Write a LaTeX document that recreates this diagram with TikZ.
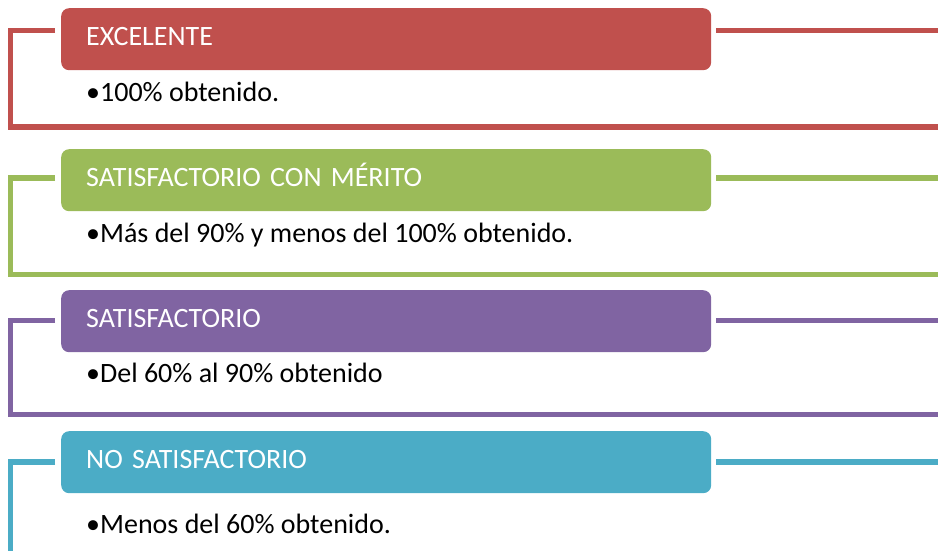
\documentclass[tikz,border=0pt]{standalone}
\usepackage{fontspec}
\setmainfont{Carlito}
\definecolor{cred}{HTML}{C0504D}
\definecolor{cgreen}{HTML}{9BBB59}
\definecolor{cpurple}{HTML}{8064A2}
\definecolor{cteal}{HTML}{4BACC6}
\tikzset{
  hdr/.style={rounded corners=8pt, minimum width=650pt, minimum height=62pt,
    anchor=north west, text width=600pt, inner xsep=25pt, inner ysep=0pt,
    align=left, text height=17pt, text depth=5pt, text=white,
    font=\fontsize{28pt}{32pt}\selectfont},
  body/.style={anchor=base west, inner sep=0pt, text=black,
    font=\fontsize{28pt}{32pt}\selectfont},
  frame/.style={line width=5.5pt, line cap=butt, line join=miter}
}
\begin{document}
\begin{tikzpicture}[x=1pt,y=-1pt]
\useasboundingbox (0,0) rectangle (938,551);
% band 1
\draw[frame, cred] (55,30.5) -- (10.5,30.5) -- (10.5,127) -- (945,127);
\draw[frame, cred] (716,30.5) -- (945,30.5);
\node[hdr, fill=cred] (h1) at (61,8) {EXCELENTE};
\node[body] (b1) at (86,101.7) {•100\% obtenido.};
% band 2
\draw[frame, cgreen] (55,178) -- (10.5,178) -- (10.5,274.5) -- (945,274.5);
\draw[frame, cgreen] (716,178) -- (945,178);
\node[hdr, fill=cgreen] (h2) at (61,149) {SATISFACTORIO CON MÉRITO};
\node[body] (b2) at (86,242) {•Más del 90\% y menos del 100\% obtenido.};
% band 3
\draw[frame, cpurple] (55,320.5) -- (10.5,320.5) -- (10.5,414.5) -- (945,414.5);
\draw[frame, cpurple] (716,320.5) -- (945,320.5);
\node[hdr, fill=cpurple] (h3) at (61,290) {SATISFACTORIO};
\node[body] (b3) at (86,382) {•Del 60\% al 90\% obtenido};
% band 4
\draw[frame, cteal] (55,462) -- (10.5,462) -- (10.5,560);
\draw[frame, cteal] (716,462) -- (945,462);
\node[hdr, fill=cteal] (h4) at (61,431) {NO SATISFACTORIO};
\node[body] (b4) at (86,533) {•Menos del 60\% obtenido.};
\end{tikzpicture}
\end{document}
